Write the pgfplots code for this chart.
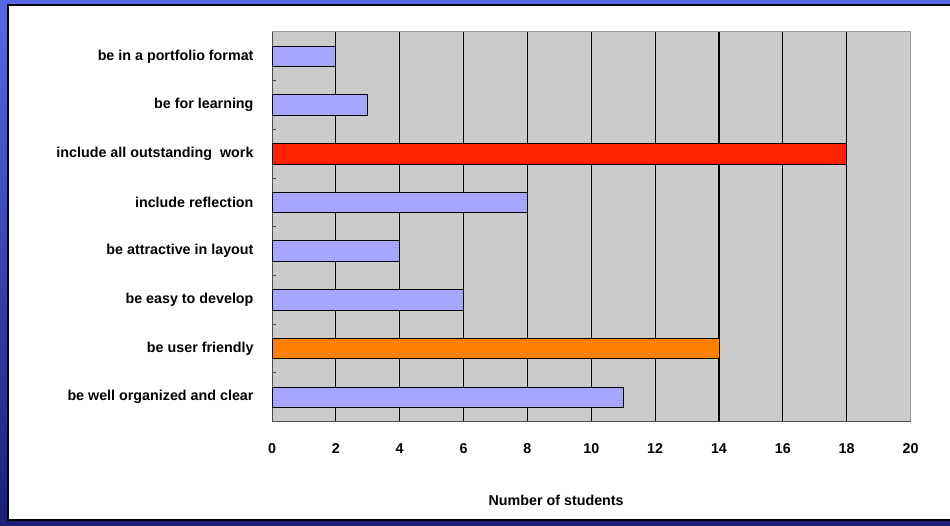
\documentclass[border=0pt]{standalone}
\usepackage{fontspec}
\setmainfont{Liberation Sans}
\usepackage{pgfplots}
\pgfplotsset{compat=1.18}
\definecolor{barblue}{RGB}{166,166,255}
\definecolor{barred}{RGB}{255,34,0}
\definecolor{barorange}{RGB}{255,128,0}
\definecolor{plotgray}{RGB}{203,203,203}
\definecolor{frametop}{RGB}{88,104,228}
\definecolor{framebot}{RGB}{28,30,120}
\newcommand{\lbl}{\fontsize{14.3}{16}\selectfont\bfseries}
\begin{document}
\begin{tikzpicture}
\useasboundingbox (0pt,0pt) rectangle (950pt,526pt);
\shade[top color=frametop, bottom color=framebot] (0pt,0pt) rectangle (950pt,526pt);
\fill[white] (8pt,6pt) rectangle (950pt,521pt);
\draw[black, line width=1.2pt] (951pt,521pt) -- (8pt,521pt) -- (8pt,6pt) -- (951pt,6pt);
\begin{axis}[
  at={(272pt,104.5pt)}, anchor=south west,
  width=638.5pt, height=389.5pt, scale only axis,
  xbar, bar width=20.5pt, bar shift=0pt,
  xmin=0, xmax=20, ymin=-0.5, ymax=7.5,
  axis background/.style={fill=plotgray},
  axis x line*=bottom, axis y line*=left,
  axis line style={draw=black!70, line width=1pt},
  tick align=inside,
  xtick={0,2,...,20},
  major x tick style={draw=none},
  extra x ticks={2,4,...,18},
  extra x tick labels={},
  extra x tick style={grid=major, major grid style={black, line width=1.2pt}, major tick length=0pt},
  ytick={0,...,7},
  yticklabels={be well organized and clear\hspace{5pt},
               be user friendly,
               be easy to develop,
               be attractive in layout\hspace{5pt},
               include reflection,
               include all outstanding\ \ work,
               be for learning,
               be in a portfolio format},
  major y tick style={draw=none},
  minor ytick={0.5,1.5,...,7.5},
  minor tick length=4pt,
  minor y tick style={draw=black!70, line width=1pt},
  ytick pos=left,
  /pgf/number format/assume math mode=true,
  tick label style={font=\lbl},
  xticklabel style={yshift=-18pt, text height=10.5pt, text depth=0pt},
  yticklabel style={xshift=-15pt},
  xlabel={Number of students},
  xlabel style={font=\lbl, at={(rel axis cs:0.445,0)}, anchor=center, yshift=-78.5pt},
  clip=false,
]
\addplot[fill=barblue, draw=black, line width=0.8pt] coordinates {(2,7) (3,6) (8,4) (4,3) (6,2) (11,0)};
\addplot[fill=barred, draw=black, line width=0.8pt] coordinates {(18,5)};
\addplot[fill=barorange, draw=black, line width=0.8pt] coordinates {(14,1)};
\draw[draw=black!40, line width=1pt] (rel axis cs:0,1) -- (rel axis cs:1,1) -- (rel axis cs:1,0);
\end{axis}
\end{tikzpicture}
\end{document}
